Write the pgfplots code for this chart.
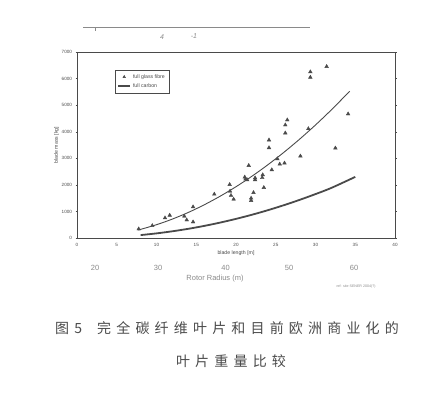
\documentclass[border=0pt]{standalone}
\usepackage{pgfplots}
\pgfplotsset{compat=1.18}
\usepackage{fontspec}
\setmainfont{Liberation Sans}
\newfontfamily\cjk[LetterSpace=37]{Noto Sans CJK SC}
\definecolor{ink}{HTML}{4A4A4A}
\definecolor{pale}{HTML}{8A8A8A}
\begin{document}
\begin{tikzpicture}[x=1bp,y=1bp]
\useasboundingbox (0,0) rectangle (440,395);
\begin{axis}[
  at={(77bp,157bp)}, anchor=south west,
  scale only axis, width=318bp, height=186bp,
  xmin=0, xmax=40, ymin=0, ymax=7000,
  xtick={0,5,...,40}, ytick={0,1000,...,7000},
  /pgf/number format/assume math mode=true,
  /pgf/number format/1000 sep={},
  tick label style={font=\fontsize{4.6bp}{5bp}\selectfont, text=ink},
  tick align=outside, major tick length=1.5bp,
  tick style={ink, line width=0.4pt},
  xtick style={draw=none},
  axis line style={ink, line width=0.6pt},
  xlabel={blade length [m]}, ylabel={blade mass [kg]},
  label style={font=\fontsize{5.2bp}{6bp}\selectfont, text=ink},
  xlabel style={yshift=2bp}, ylabel style={yshift=-4bp},
  legend style={at={(0.12,0.903)}, anchor=north west, draw=ink, line width=0.4pt,
    font=\fontsize{5.2bp}{6.5bp}\selectfont, text=ink, inner sep=2bp,
    row sep=0pt, legend cell align=left},
  legend image post style={scale=0.7},
  clip=false,
]
\addplot[only marks, mark=triangle*, mark size=2.1bp, color=ink, mark options={fill=ink}] coordinates {
(7.76,340) (9.47,464) (11.07,755) (11.66,856) (13.5,819) (13.8,679)
(14.6,604) (14.6,1170) (17.27,1649) (19.2,2011) (19.25,1760) (19.37,1600)
(19.7,1460) (21.1,2290) (21.4,2189) (21.6,2728) (21.2,2220) (22.4,2189)
(22.4,2260) (23.36,2377) (23.3,2270) (23.5,1898) (22.2,1709) (21.9,1498)
(21.9,1408) (24.5,2566) (25.2,2981) (25.5,2781) (26.1,2819) (28.1,3083)
(24.15,3687) (24.15,3396) (26.2,3951) (26.2,4253) (26.45,4442) (29.1,4113)
(29.35,6049) (29.35,6253) (31.4,6453) (32.5,3385) (34.1,4668)
};
\addlegendentry{full glass fibre}
\addplot[color=ink, line width=0.9pt, smooth, forget plot] coordinates {
(7.7,300) (10,500) (12,713) (14,962) (16,1249) (18,1572) (20,1930)
(22,2324) (24,2754) (26,3219) (28,3719) (30,4254) (32,4825) (34.3,5523)
};
\addplot[color=ink, line width=1.8pt, smooth] coordinates {
(8,110) (10,174) (12,253) (14,346) (16,455) (18,580) (20,720) (22,875)
(24,1046) (26,1233) (28,1435) (30,1653) (32,1886) (35,2300)
};
\addlegendentry{full carbon}
\end{axis}
% secondary rotor radius scale
\begin{scope}[pale, font=\fontsize{7.5bp}{8bp}\selectfont]
\node at (95,127) {20};
\node at (158,127) {30};
\node at (225.5,127) {40};
\node at (289,127) {50};
\node at (354,127) {60};
\node at (215,116) {Rotor Radius (m)};
\end{scope}
\node[pale, font=\fontsize{3.6bp}{4bp}\selectfont] at (356,108) {ref: site SENER 2004(?)};
% top page remnant
\draw[pale, line width=0.8pt] (83,368) -- (310,368);
\draw[pale, line width=0.6pt] (95,368) -- (95,364);
\node[pale, font=\fontsize{7bp}{8bp}\itshape] at (162,358) {4};
\node[pale, font=\fontsize{7bp}{8bp}\itshape] at (194,359) {-1};
% caption
\node[anchor=west, text=ink, inner sep=0pt] at (55,67) {\fontsize{14bp}{16bp}\cjk 图5};
\node[anchor=west, text=ink, inner sep=0pt] at (97,67) {\fontsize{14bp}{16bp}\cjk 完全碳纤维叶片和目前欧洲商业化的};
\node[anchor=center, text=ink, inner sep=0pt] at (231,34) {\fontsize{14bp}{16bp}\cjk 叶片重量比较};
\end{tikzpicture}
\end{document}
